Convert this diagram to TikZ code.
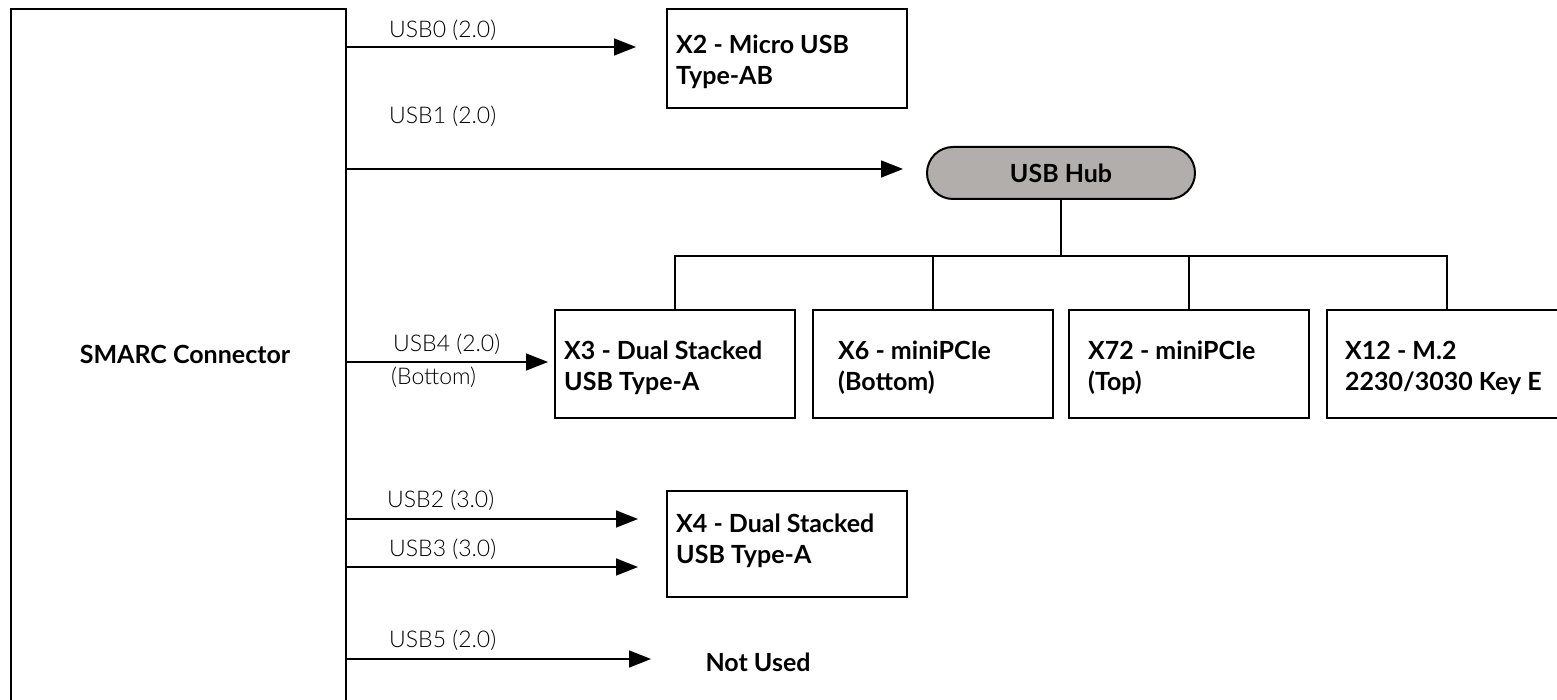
\documentclass[tikz,border=0pt]{standalone}
\usepackage{fontspec}
\setmainfont{Lato}
\newfontfamily\lightf{Lato Light}
\usetikzlibrary{arrows.meta}
\definecolor{hubgray}{HTML}{B1AEAB}
\begin{document}
\begin{tikzpicture}[x=1pt,y=-1pt,
  boxs/.style={draw, line width=2pt, rectangle, inner sep=0pt},
  btxt/.style={align=left, inner sep=0pt, anchor=west, font=\bfseries\fontsize{25}{31}\selectfont},
  lbl/.style={font=\lightf\fontsize{23}{27}\selectfont, inner sep=0pt, anchor=west},
  arr/.style={-{Triangle[length=22pt,width=17pt]}, line width=1.6pt},
  bus/.style={line width=1.6pt}]
\useasboundingbox (0,0) rectangle (1557,700);

% SMARC connector
\node[boxs, minimum width=335pt, minimum height=711pt] (smarc) at (178.5,364.5) {};
\node[btxt, anchor=center] (smarct) at (185,354) {SMARC Connector};

% target boxes
\node[boxs, minimum width=240pt, minimum height=99pt] (x2) at (787,58.5) {};
\node[btxt] (x2t) at (676,62) {X2 - Micro USB\\Type-AB};

\node[boxs, minimum width=268pt, minimum height=52pt, rounded corners=26pt, fill=hubgray,
      font=\bfseries\fontsize{25}{31}\selectfont] (hub) at (1061,173) {USB Hub};

\node[boxs, minimum width=240pt, minimum height=108pt] (x3) at (675,364) {};
\node[btxt] (x3t) at (564,368) {X3 - Dual Stacked\\USB Type-A};
\node[boxs, minimum width=240pt, minimum height=108pt] (x6) at (933,364) {};
\node[btxt] (x6t) at (838,368) {X6 - miniPCIe\\(Bottom)};
\node[boxs, minimum width=240pt, minimum height=108pt] (x72) at (1189,364) {};
\node[btxt] (x72t) at (1088,368) {X72 - miniPCIe\\(Top)};
\node[boxs, minimum width=240pt, minimum height=108pt] (x12) at (1447,364) {};
\node[btxt] (x12t) at (1345,368) {X12 - M.2\\2230/3030 Key E};

\node[boxs, minimum width=240pt, minimum height=106pt] (x4) at (787,544) {};
\node[btxt] (x4t) at (676,541) {X4 - Dual Stacked\\USB Type-A};

\node[btxt, anchor=center] (nu) at (758,662) {Not Used};

% arrow end points
\coordinate (u0) at (636,47);
\coordinate (u1) at (903,169);
\coordinate (u4) at (548,362);
\coordinate (u2) at (638,519);
\coordinate (u3) at (638,567);
\coordinate (u5) at (651,659);

\draw[arr] (smarc.east |- u0) -- (u0);
\draw[arr] (smarc.east |- u1) -- (u1);
\draw[arr] (smarc.east |- u4) -- (u4);
\draw[arr] (smarc.east |- u2) -- (u2);
\draw[arr] (smarc.east |- u3) -- (u3);
\draw[arr] (smarc.east |- u5) -- (u5);

% labels
\node[lbl] (l0) at (389,30) {USB0 (2.0)};
\node[lbl] (l1) at (389,116) {USB1 (2.0)};
\node[lbl] (l4) at (393,344) {USB4 (2.0)};
\node[lbl] (l4b) at (391,377) {(Bottom)};
\node[lbl] (l2) at (387,500) {USB2 (3.0)};
\node[lbl] (l3) at (389,549) {USB3 (3.0)};
\node[lbl] (l5) at (389,640) {USB5 (2.0)};

% hub bus
\coordinate (bus) at (1061,256);
\draw[bus] (hub.south) -- (hub.south |- bus);
\draw[bus] (x3.north) -- (x3.north |- bus) -- (x12.north |- bus) -- (x12.north);
\draw[bus] (x6.north) -- (x6.north |- bus);
\draw[bus] (x72.north) -- (x72.north |- bus);
\end{tikzpicture}
\end{document}
